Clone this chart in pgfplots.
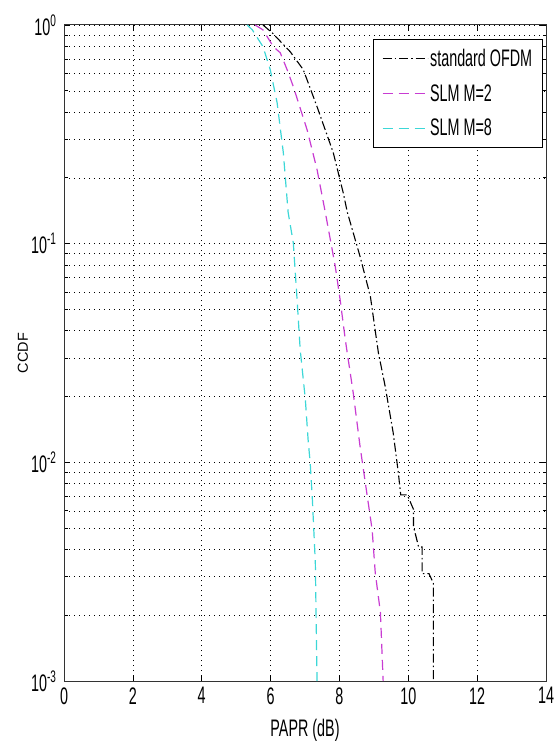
\documentclass[border=0pt]{standalone}
\usepackage{pgfplots}
\pgfplotsset{compat=1.18}
\usepackage{fontspec}
\setmainfont[FakeStretch=0.6]{Liberation Sans}
\newfontfamily\plainfont{Liberation Sans}
\definecolor{mag}{RGB}{200,60,210}
\definecolor{cya}{RGB}{60,215,215}
\begin{document}
\begin{tikzpicture}
\useasboundingbox (0,0) rectangle (555bp,751bp);
\begin{axis}[
  at={(64bp,70bp)}, anchor=south west,
  scale only axis, width=482bp, height=656bp,
  xmin=0, xmax=14, ymode=log, ymin=1e-3, ymax=1,
  xtick={0,2,...,14},
  ytick={0.001,0.01,0.1,1},
  yticklabels={10\textsuperscript{-3},10\textsuperscript{-2},10\textsuperscript{-1},10\textsuperscript{0}},
  /pgf/number format/assume math mode=true,
  grid=both,
  major grid style={black, dash pattern=on 1bp off 4bp, line width=0.6bp},
  minor grid style={black, dash pattern=on 1bp off 4bp, line width=0.6bp},
  tick align=inside,
  major tick length=6bp, minor tick length=3.5bp,
  every tick/.style={black, line width=0.7bp},
  axis line style={line width=1bp, black!80},
  tick label style={font=\fontsize{24}{26}\selectfont},
  xticklabel style={yshift=-3bp},
  yticklabel style={xshift=-4bp},
  xlabel={PAPR (dB)},
  ylabel={CCDF},
  x label style={font=\fontsize{24}{26}\selectfont, at={(axis description cs:0.5,-0.075)}, anchor=center},
  y label style={font=\fontsize{14.5}{16}\plainfont, at={(axis description cs:-0.085,0.5)}, anchor=center},
  legend style={at={(0.993,0.979)}, anchor=north east, draw=black, line width=0.9bp,
    font=\fontsize{24}{26}\selectfont, row sep=12.5bp, inner sep=8bp},
  legend cell align=left,
  legend image code/.code={\draw[#1] (0bp,0bp) -- (45bp,0bp);},
]
\addplot[black, line width=1.1bp, dash pattern=on 9bp off 3bp on 1.5bp off 3bp] coordinates {
(5.78,1.0) (6.05,0.92) (6.57,0.755) (6.95,0.625) (7.35,0.423) (7.82,0.261)
(8.11,0.171) (8.23,0.139) (8.60,0.0873) (8.90,0.0573) (9.13,0.0318)
(9.33,0.0222) (9.56,0.0137) (9.71,0.00898) (9.78,0.0071) (9.97,0.0071)
(10.15,0.0061) (10.15,0.0051) (10.30,0.0041) (10.40,0.0041) (10.40,0.0031)
(10.60,0.0031) (10.73,0.0028) (10.73,0.001)
};
\addlegendentry{standard OFDM}
\addplot[mag, line width=1.2bp, dash pattern=on 10bp off 6bp] coordinates {
(5.55,1.0) (5.78,0.95) (6.08,0.796) (6.28,0.747) (6.48,0.625) (6.66,0.523)
(7.06,0.332) (7.35,0.218) (7.59,0.139) (7.88,0.0785) (8.02,0.0555)
(8.17,0.0364) (8.40,0.0208) (8.60,0.0118) (8.81,0.00697) (8.95,0.00492)
(9.04,0.00313) (9.19,0.00206) (9.27,0.001)
};
\addlegendentry{SLM M=2}
\addplot[cya, line width=1.2bp, dash pattern=on 10bp off 6bp] coordinates {
(5.32,1.0) (5.47,0.95) (5.78,0.796) (5.99,0.625) (6.19,0.441) (6.37,0.261)
(6.51,0.139) (6.66,0.101) (6.77,0.0555) (6.86,0.0328) (7.01,0.0194)
(7.09,0.0127) (7.15,0.00997) (7.21,0.00697) (7.30,0.00348) (7.35,0.001)
};
\addlegendentry{SLM M=8}
\end{axis}
\end{tikzpicture}
\end{document}
